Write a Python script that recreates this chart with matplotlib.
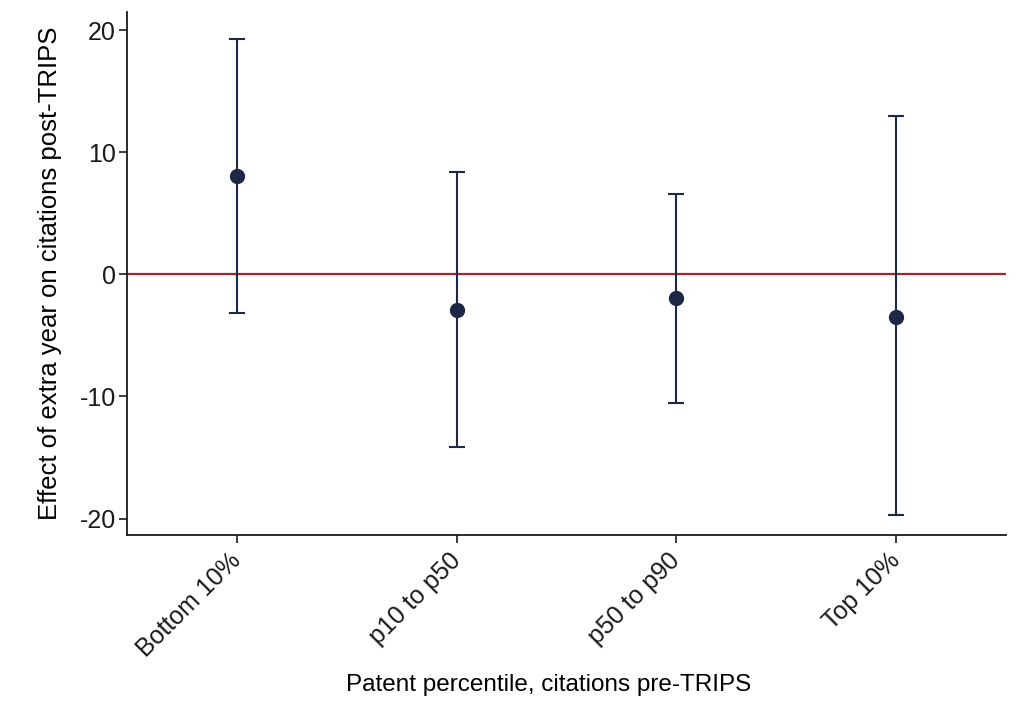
import numpy as np
import matplotlib
matplotlib.use("Agg")
import matplotlib.pyplot as plt

plt.rcParams['font.family'] = ['Liberation Sans', 'DejaVu Sans']
plt.rcParams['axes.unicode_minus'] = False

# percentile groups and estimates
groups = ["Bottom 10%", "p10 to p50", "p50 to p90", "Top 10%"]
effect = [8.1, -2.9, -1.95, -3.45]
ci_low = [-3.15, -14.15, -10.55, -19.75]
ci_high = [19.3, 8.35, 6.6, 12.95]

navy = "#1d2846"
red = "#a3262a"

fig = plt.figure(figsize=(10.25, 7.17), dpi=100)
ax = fig.add_axes([0.1239, 0.2538, 0.8576, 0.7295])

x = np.arange(1, len(groups) + 1)
effect = np.array(effect)
yerr = np.vstack([effect - np.array(ci_low), np.array(ci_high) - effect])

ax.axhline(0, color=red, lw=1.6, zorder=1)
ax.errorbar(x, effect, yerr=yerr, fmt='none', ecolor=navy, elinewidth=1.5,
            capsize=5.5, capthick=1.5, zorder=2)
ax.plot(x, effect, 'o', color=navy, markersize=10, zorder=3)

ax.set_xlim(0.5, 4.5)
ax.set_ylim(-21.35, 21.5)
ax.set_yticks([-20, -10, 0, 10, 20])
ax.set_xticks(x)
ax.set_xticklabels(groups, rotation=45, ha='right', va='center', rotation_mode='anchor')

for s in ['top', 'right']:
    ax.spines[s].set_visible(False)
for s in ['left', 'bottom']:
    ax.spines[s].set_linewidth(1.3)
    ax.spines[s].set_color('#1a1a1a')

ax.tick_params(axis='both', length=6, width=1.2, labelsize=18, colors='#1a1a1a')
ax.tick_params(axis='x', pad=10)
ax.tick_params(axis='y', pad=2)

ax.set_ylabel("Effect of extra year on citations post-TRIPS", fontsize=18.5, labelpad=13)
ax.set_xlabel("Patent percentile, citations pre-TRIPS", fontsize=17.5)
ax.xaxis.set_label_coords(0.48, -0.265)

fig.savefig("out.png", dpi=100)
